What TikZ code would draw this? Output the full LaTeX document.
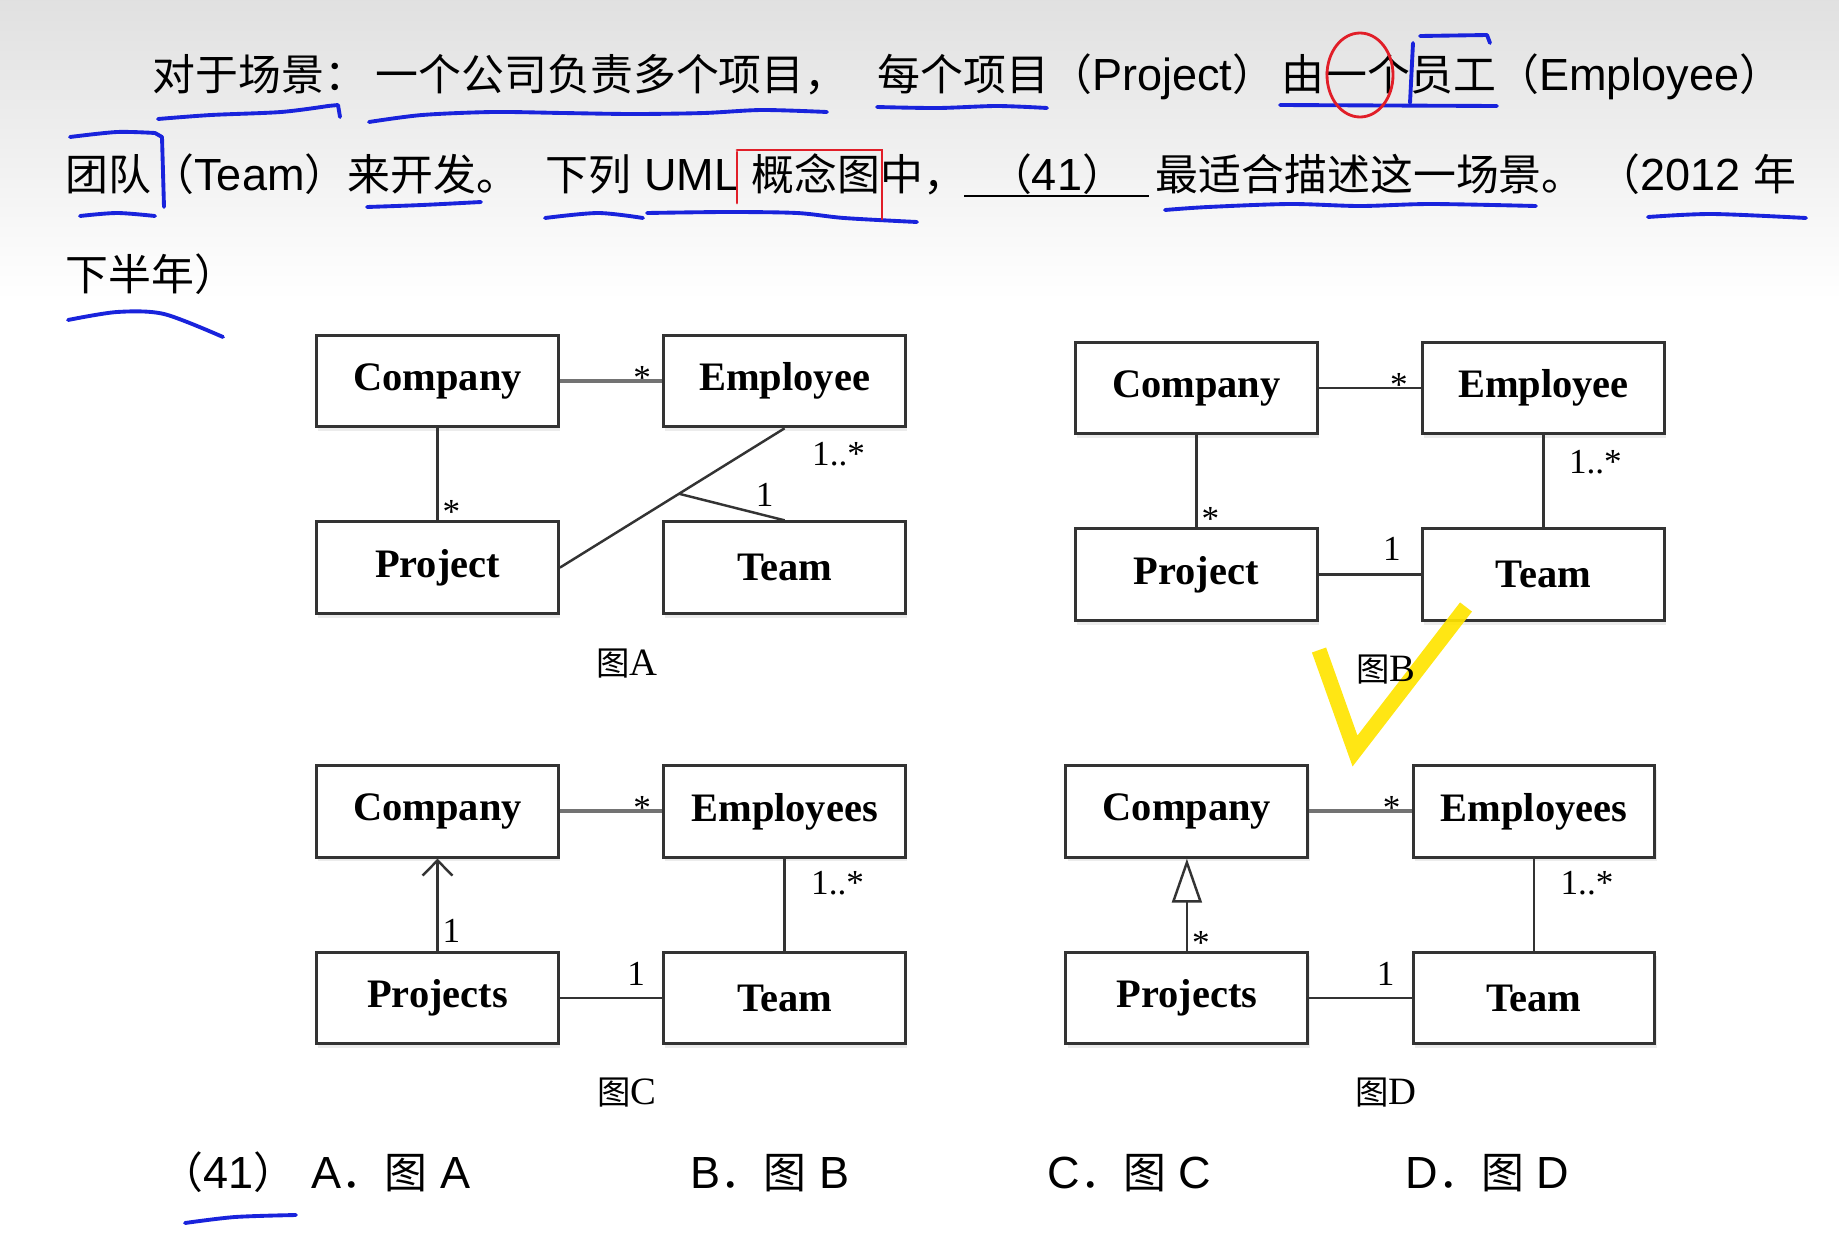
\documentclass[tikz,border=0pt]{standalone}
\usepackage{fontspec}
\setmainfont{Liberation Sans}[Scale=1.05]
\newfontfamily\cjk{Noto Sans CJK SC}
\newfontfamily\umlfont{Liberation Serif}
\usetikzlibrary{arrows.meta,shadows}
\definecolor{inkblue}{RGB}{25,35,220}
\definecolor{inkred}{RGB}{225,30,40}
\definecolor{hiyellow}{RGB}{255,228,0}

\begin{document}
\begin{tikzpicture}[x=0.01cm, y=-0.01cm,
  cls/.style={draw=black!80, line width=0.85pt, fill=white, minimum width=2.417cm, minimum height=0.915cm,
    font=\umlfont\fontsize{11.5}{13}\selectfont\bfseries,
    drop shadow={opacity=0.15, shadow xshift=0.5pt, shadow yshift=-1.2pt}},
  mult/.style={anchor=base, inner sep=0pt, font=\umlfont\fontsize{10}{12}\selectfont},
  assoc/.style={draw=black!80, line width=0.7pt},
  assocg/.style={draw=black!55, line width=1.1pt},
  capt/.style={inner sep=0pt, font=\umlfont\fontsize{11}{13}\selectfont},
  txt/.style={anchor=base west, inner sep=0pt, font=\fontsize{12.2}{14}\selectfont},
  pen/.style={draw=inkblue, line width=1.1pt, line cap=round, line join=round},
  redpen/.style={draw=inkred, line width=0.8pt, line cap=round}]
  \useasboundingbox (0,0) rectangle (1839,1248);
  \shade[top color=black!12, bottom color=white] (0,0) rectangle (1839,300);

  % question text
  \node[txt] (q1a) at (152,90) {\cjk 对于场景：};
  \node[txt] (q1b) at (375,90) {\cjk 一个公司负责多个项目，};
  \node[txt] (q1c) at (877,90) {{\cjk 每个项目（}Project{\cjk ）}};
  \node[txt] (q1d) at (1281,90) {{\cjk 由一个员工（}Employee{\cjk ）}};
  \node[txt] (q2a) at (65,190) {{\cjk 团队（}Team{\cjk ）来开发。}};
  \node[txt] (q2b) at (545,190) {{\cjk 下列} UML {\cjk 概念图中，}};
  \node[txt, anchor=base] (q2c) at (1057,190) {{\cjk （}41{\cjk ）}};
  \draw[line width=0.8pt] (964,196) -- (1149,196);
  \node[txt] (q2d) at (1155,190) {\cjk 最适合描述这一场景。};
  \node[txt, anchor=base east] (q2e) at (1797,190) {{\cjk （}2012 {\cjk 年}};
  \node[txt] (q3) at (65,290) {\cjk 下半年）};

  % diagram A
  \node[cls] (cA) at (437.5,381) {Company};
  \node[cls] (eA) at (784.6,381) {Employee};
  \node[cls] (pA) at (437.5,567.6) {Project};
  \node[cls] (tA) at (784.6,567.6) {Team};
  \draw[assocg] (cA.east) -- (eA.west);
  \draw[assoc] (cA.south) -- (pA.north);
  \draw[assoc] (pA.east) -- coordinate[pos=0.53] (jA) (eA.south);
  \draw[assoc] (jA) -- (tA.north);
  \node[mult] (mA1) at ([shift={(-20,8)}]eA.west) {*};
  \node[mult] (mA2) at ([shift={(14,3)}]pA.north) {*};
  \node[mult] (mA3) at ([shift={(54,37)}]eA.south) {1..*};
  \node[mult] (mA4) at ([shift={(-20,-14)}]tA.north) {1};
  \node[capt] (capA) at (627,664) {{\cjk\fontsize{9.5}{11}\selectfont 图}A};

  % diagram B
  \node[cls] (cB) at (1196.3,388) {Company};
  \node[cls] (eB) at (1543.4,388) {Employee};
  \node[cls] (pB) at (1196.3,574.6) {Project};
  \node[cls] (tB) at (1543.4,574.6) {Team};
  \draw[assoc] (cB.east) -- (eB.west);
  \draw[assoc] (cB.south) -- (pB.north);
  \draw[assoc] (eB.south) -- (tB.north);
  \draw[assoc] (pB.east) -- (tB.west);
  \node[mult] (mB1) at ([shift={(-22,8)}]eB.west) {*};
  \node[mult] (mB2) at ([shift={(14,3)}]pB.north) {*};
  \node[mult] (mB3) at ([shift={(52,38)}]eB.south) {1..*};
  \node[mult] (mB4) at ([shift={(-29,-14)}]tB.west) {1};

  % diagram C
  \node[cls] (cC) at (437.5,811.4) {Company};
  \node[cls] (eC) at (784.6,811.4) {Employees};
  \node[cls] (pC) at (437.5,998) {Projects};
  \node[cls] (tC) at (784.6,998) {Team};
  \draw[assocg] (cC.east) -- (eC.west);
  \draw[assoc, -{Straight Barb[length=4.3pt, width=8.5pt]}] (pC.north) -- (cC.south);
  \draw[assoc] (eC.south) -- (tC.north);
  \draw[assoc] (pC.east) -- (tC.west);
  \node[mult] (mC1) at ([shift={(-20,8)}]eC.west) {*};
  \node[mult] (mC2) at ([shift={(14,-8)}]pC.north) {1};
  \node[mult] (mC3) at ([shift={(53,36)}]eC.south) {1..*};
  \node[mult] (mC4) at ([shift={(-26,-13)}]tC.west) {1};
  \node[capt] (capC) at (627,1093) {{\cjk\fontsize{9.5}{11}\selectfont 图}C};

  % diagram D
  \node[cls] (cD) at (1186.9,811.4) {Company};
  \node[cls] (eD) at (1534,811.4) {Employees};
  \node[cls] (pD) at (1186.9,998) {Projects};
  \node[cls] (tD) at (1534,998) {Team};
  \draw[assocg] (cD.east) -- (eD.west);
  \draw[assoc, -{Triangle[open, length=12.5pt, width=8.5pt, fill=white]}] (pD.north) -- (cD.south);
  \draw[assoc] (eD.south) -- (tD.north);
  \draw[assoc] (pD.east) -- (tD.west);
  \node[mult] (mD1) at ([shift={(-20,8)}]eD.west) {*};
  \node[mult] (mD2) at ([shift={(14,4)}]pD.north) {*};
  \node[mult] (mD3) at ([shift={(53,36)}]eD.south) {1..*};
  \node[mult] (mD4) at ([shift={(-26,-13)}]tD.west) {1};
  \node[capt] (capD) at (1386,1093) {{\cjk\fontsize{9.5}{11}\selectfont 图}D};

  % answers
  \node[txt] (a0) at (160,1188) {{\cjk （}41{\cjk ）}};
  \node[txt] (aA) at (311,1188) {A{\cjk ．图} A};
  \node[txt] (aB) at (690,1188) {B{\cjk ．图} B};
  \node[txt] (aC) at (1047,1188) {C{\cjk ．图} C};
  \node[txt] (aD) at (1405,1188) {D{\cjk ．图} D};

  % hand marks
  \draw[pen] plot[smooth] coordinates {(158,119) (211,115) (281,112) (328,106)} -- (338,105) -- (340,117);
  \draw[pen] plot[smooth] coordinates {(369,122) (422,115) (493,112) (563,113) (633,114) (704,113) (762,110) (827,112)};
  \draw[pen] plot[smooth] coordinates {(877,107) (938,108) (997,106) (1047,108)};
  \draw[pen] (1280,105) -- (1497,106);
  \draw[pen] (1413,43) -- (1410,103);
  \draw[pen] (1420,36) -- (1487,35) -- (1490,43);
  \draw[pen] plot[smooth] coordinates {(70,137) (117,132) (155,133)} -- (162,137) -- (164,207);
  \draw[pen] plot[smooth] coordinates {(80,216) (117,213) (155,216)};
  \draw[pen] plot[smooth] coordinates {(367,207) (422,205) (481,202)};
  \draw[pen] plot[smooth] coordinates {(545,218) (598,213) (643,218)};
  \draw[pen] plot[smooth] coordinates {(647,213) (727,212) (797,213) (844,218) (917,222)};
  \draw[pen] plot[smooth] coordinates {(1165,210) (1208,207) (1290,204) (1360,206) (1431,204) (1536,206)};
  \draw[pen] plot[smooth] coordinates {(1648,217) (1712,214) (1806,218)};
  \draw[pen] plot[smooth] coordinates {(68,320) (117,312) (164,314) (223,337)};
  \draw[pen] plot[smooth] coordinates {(185,1223) (235,1217) (296,1215)};
  \draw[redpen] (1360,75) ellipse [x radius=33, y radius=42];
  \draw[redpen] (737,152) -- (737,203);
  \draw[redpen] (737,150) -- (882,150) -- (882,219);
  \draw[hiyellow, line width=0.15cm, opacity=0.92] (1319,650) -- (1355,751) -- (1466,607);
  \node[capt] (capB) at (1386,670) {{\cjk\fontsize{9.5}{11}\selectfont 图}B};
\end{tikzpicture}
\end{document}
